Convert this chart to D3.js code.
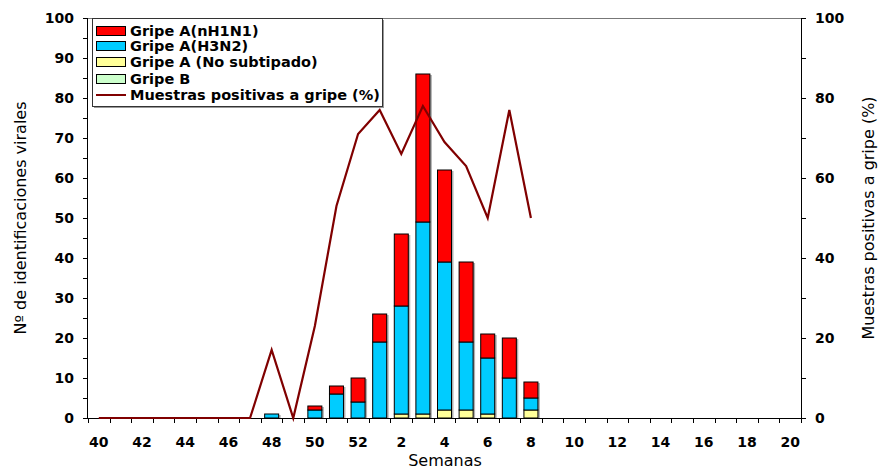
<!DOCTYPE html>
<html><head><meta charset="utf-8">
<script src="https://cdn.jsdelivr.net/npm/d3@7"></script>
<style>body{margin:0;background:#fff;} svg{display:block;font-family:"DejaVu Sans",Verdana,sans-serif;}</style>
</head><body><svg id="c" width="880" height="470"></svg>
<script>
const weeks = [40,41,42,43,44,45,46,47,48,49,50,51,52,1,2,3,4,5,6,7,8,9,10,11,12,13,14,15,16,17,18,19,20];
const tickLabels = [40,42,44,46,48,50,52,2,4,6,8,10,12,14,16,18,20];
const h1n1 =   [0,0,0,0,0,0,0,0,0,0,1,2,6,7,18,37,23,20,6,10,4, 0,0,0,0,0,0,0,0,0,0,0,0];
const h3n2 =   [0,0,0,0,0,0,0,0,1,0,2,6,4,19,27,48,37,17,14,10,3, 0,0,0,0,0,0,0,0,0,0,0,0];
const noSub =  [0,0,0,0,0,0,0,0,0,0,0,0,0,0,1,1,2,2,1,0,2, 0,0,0,0,0,0,0,0,0,0,0,0];
const gripeB = [0,0,0,0,0,0,0,0,0,0,0,0,0,0,0,0,0,0,0,0,0, 0,0,0,0,0,0,0,0,0,0,0,0];
const pctPos = [0,0,0,0,0,0,0,0,17,0,23,53,71,77,66,78,69,63,50,77,50, null,null,null,null,null,null,null,null,null,null,null,null];

const seriesNames = ["Gripe A(nH1N1)","Gripe A(H3N2)","Gripe A (No subtipado)","Gripe B"];
const seriesColors = ["#ff0000","#00ccff","#ffff99","#ccffcc"];
const lineName = "Muestras positivas a gripe (%)";
const lineColor = "#800000";

const svg = d3.select("#c");
const L = 88, R = 801, T = 18, B = 418;

const x = d3.scaleBand().domain(weeks.map(String)).range([L, R]).paddingInner(0).paddingOuter(0);
const y = d3.scaleLinear().domain([0,100]).range([B, T]);
const y2 = d3.scaleLinear().domain([0,100]).range([B, T]);

const rows = weeks.map((w,i)=>({w:String(w), noSub:noSub[i], gripeB:gripeB[i], h3n2:h3n2[i], h1n1:h1n1[i]}));
const keys = ["noSub","gripeB","h3n2","h1n1"];
const colorOf = {h1n1:seriesColors[0], h3n2:seriesColors[1], noSub:seriesColors[2], gripeB:seriesColors[3]};
const stack = d3.stack().keys(keys)(rows);

const bw = 14;
const bx = d => x(d.data.w) + (x.bandwidth()-bw)/2;
const tot = d => d.noSub+d.gripeB+d.h3n2+d.h1n1;

// shadows
svg.append("g").selectAll("rect").data(rows.filter(r=>tot(r)>0)).join("rect")
  .attr("x", d=>x(d.w)+(x.bandwidth()-bw)/2+2)
  .attr("y", d=>y(tot(d))+1)
  .attr("width", bw).attr("height", d=>B - y(tot(d))-1)
  .attr("fill","#b0b0b0");

svg.append("g").selectAll("g").data(stack).join("g")
  .attr("fill", s=>colorOf[s.key])
  .selectAll("rect").data(s=>s.filter(d=>d[1]-d[0]>0)).join("rect")
  .attr("x", bx).attr("y", d=>y(d[1])).attr("width", bw).attr("height", d=>y(d[0])-y(d[1]))
  .attr("stroke","#000").attr("stroke-width",1);

// top frame line
svg.append("line").attr("x1",L).attr("x2",R).attr("y1",T+0.5).attr("y2",T+0.5).attr("stroke","#777").attr("stroke-width",1);

// left axis
const gl = svg.append("g").attr("transform",`translate(${L},0)`);
gl.call(d3.axisLeft(y).tickValues(d3.range(0,101,5)).tickSize(5).tickFormat(d=>d%10===0?d:""));
gl.select(".domain").attr("stroke","#000").attr("d",`M-0.5,${B}V${T}`);
gl.selectAll("text").attr("font-size",14).attr("font-weight","bold").attr("font-family","DejaVu Sans").attr("fill","#000").attr("x",-14);
gl.selectAll(".tick line").attr("stroke","#000");

// right axis
const gr = svg.append("g").attr("transform",`translate(${R},0)`);
gr.call(d3.axisRight(y2).tickValues(d3.range(0,101,10)).tickSize(5).tickFormat(d=>d%20===0?d:""));
gr.select(".domain").attr("stroke","#000").attr("d",`M0.5,${B}V${T}`);
gr.selectAll("text").attr("font-size",14).attr("font-weight","bold").attr("font-family","DejaVu Sans").attr("fill","#000").attr("x",14);

// bottom axis
const gb = svg.append("g").attr("transform",`translate(0,${B})`);
gb.append("line").attr("x1",L).attr("x2",R).attr("y1",0.5).attr("y2",0.5).attr("stroke","#000");
const bounds = weeks.map(w=>x(String(w))).concat([R]);
gb.selectAll("line.t").data(bounds).join("line").attr("class","t")
  .attr("x1",d=>Math.round(d)+0.5).attr("x2",d=>Math.round(d)+0.5).attr("y1",0).attr("y2",5).attr("stroke","#000");
gb.selectAll("text").data(tickLabels).join("text")
  .attr("x",d=>x(String(d))+x.bandwidth()/2).attr("y",29)
  .attr("text-anchor","middle").attr("font-size",14).attr("font-weight","bold").text(d=>d);

// line
const line = d3.line().defined(d=>d.v!==null).x(d=>x(d.w)+x.bandwidth()/2).y(d=>y2(d.v));
svg.append("path").datum(weeks.map((w,i)=>({w:String(w), v:pctPos[i]})))
  .attr("d", line).attr("fill","none").attr("stroke",lineColor).attr("stroke-width",2.2).attr("stroke-linejoin","miter");

// axis titles
svg.append("text").attr("transform",`translate(26,${(T+B)/2}) rotate(-90)`).attr("text-anchor","middle")
  .attr("font-size",16).attr("font-family","DejaVu Sans").text("Nº de identificaciones virales");
svg.append("text").attr("transform",`translate(874,${(T+B)/2}) rotate(-90)`).attr("text-anchor","middle")
  .attr("font-size",16).attr("font-family","DejaVu Sans").text("Muestras positivas a gripe (%)");
svg.append("text").attr("x",445).attr("y",466).attr("text-anchor","middle").attr("font-size",16).text("Semanas");

// legend
const lg = svg.append("g");
lg.append("rect").attr("x",94).attr("y",20).attr("width",290).attr("height",88).attr("fill","#999");
lg.append("rect").attr("x",92.5).attr("y",18.5).attr("width",290).attr("height",88).attr("fill","#fff").attr("stroke","#333");
const ly = [31,46,62,79,95];
seriesNames.forEach((n,i)=>{
  lg.append("rect").attr("x",96.5).attr("y",ly[i]-4.5).attr("width",29).attr("height",9).attr("fill",seriesColors[i]).attr("stroke","#000");
  lg.append("text").attr("x",130).attr("y",ly[i]+5).attr("font-size",14.5).attr("font-weight","bold").text(n);
});
lg.append("line").attr("x1",96).attr("x2",126).attr("y1",ly[4]).attr("y2",ly[4]).attr("stroke",lineColor).attr("stroke-width",2);
lg.append("text").attr("x",130).attr("y",ly[4]+5).attr("font-size",14.5).attr("font-weight","bold").text(lineName);
</script></body></html>
